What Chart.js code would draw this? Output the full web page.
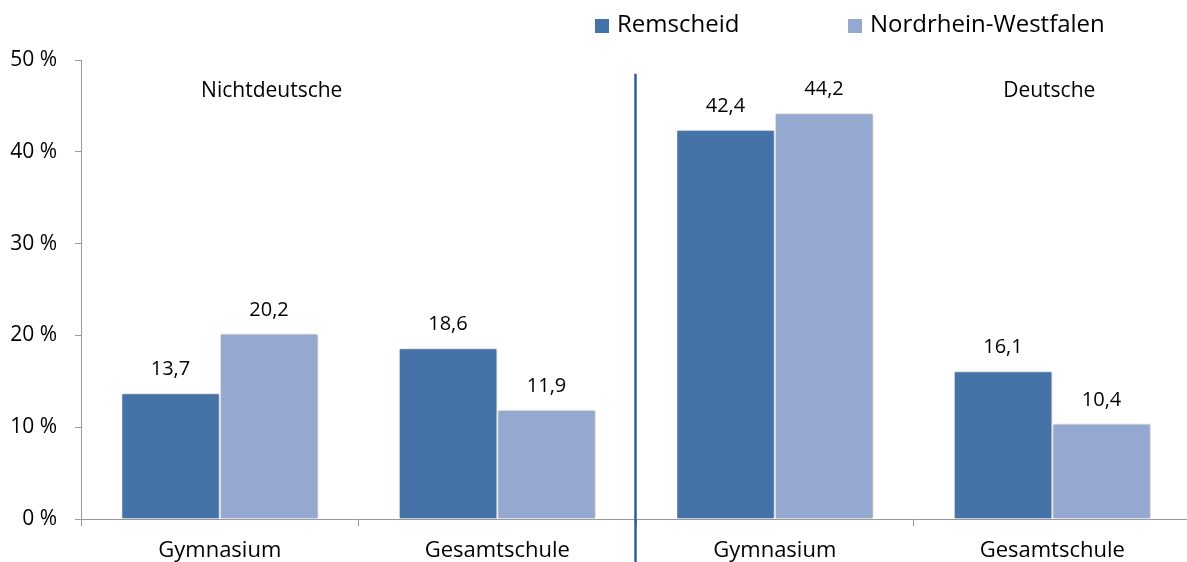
<!DOCTYPE html>
<html>
<head>
<meta charset="utf-8">
<script src="https://cdn.jsdelivr.net/npm/chart.js@4"></script>
<style>
  html, body { margin: 0; padding: 0; background: #fff; overflow: hidden; }
  #clip { width: 1187px; height: 562px; overflow: hidden; }
  #wrap { width: 1191px; height: 562px; }
</style>
</head>
<body>
<div id="clip"><div id="wrap"><canvas id="schoolChart"></canvas></div></div>
<script>
const categories = ['Gymnasium', 'Gesamtschule', 'Gymnasium', 'Gesamtschule'];
const groupLabels = ['Nichtdeutsche', 'Deutsche'];
const seriesNames = ['Remscheid', 'Nordrhein-Westfalen'];
const remscheid = [13.7, 18.6, 42.4, 16.1];
const nrw = [20.2, 11.9, 44.2, 10.4];
const colors = ['#4572a7', '#95a9d0'];

const FONT = "'Open Sans', sans-serif";

const fmt = v => v.toFixed(1).replace('.', ',');

// shadow under the bars, labels, separator, group titles and legend
const extras = {
  id: 'extras',
  beforeDatasetsDraw(chart) {
    const ctx = chart.ctx;
    ctx.save();
    ctx.shadowColor = 'rgba(0,0,0,0.28)';
    ctx.shadowBlur = 3;
    ctx.shadowOffsetX = 1.5;
    ctx.shadowOffsetY = 0;
  },
  afterDatasetsDraw(chart) {
    chart.ctx.restore();
  },
  afterDraw(chart) {
    const ctx = chart.ctx;
    const x = chart.scales.x, y = chart.scales.y;
    ctx.save();

    // value labels
    ctx.fillStyle = '#000';
    ctx.font = '20px ' + FONT;
    ctx.textAlign = 'center';
    ctx.textBaseline = 'alphabetic';
    chart.data.datasets.forEach((ds, i) => {
      chart.getDatasetMeta(i).data.forEach((bar, j) => {
        ctx.fillText(fmt(ds.data[j]), bar.x, bar.y - 18);
      });
    });

    // separator between the two groups
    const sepX = Math.round((x.getPixelForValue(1) + x.getPixelForValue(2)) / 2) - 0.5;
    ctx.strokeStyle = '#2f5d97';
    ctx.lineWidth = 2.5;
    ctx.beginPath();
    ctx.moveTo(sepX, y.getPixelForValue(48.5));
    ctx.lineTo(sepX, chart.height);
    ctx.stroke();

    // group titles
    ctx.font = '21px ' + FONT;
    ctx.textBaseline = 'middle';
    const gy = y.getPixelForValue(46.6);
    ctx.fillText(groupLabels[0], x.getPixelForValue(0) + 52, gy);
    ctx.fillText(groupLabels[1], x.getPixelForValue(3) - 3, gy);

    // legend
    ctx.font = '24px ' + FONT;
    ctx.textAlign = 'left';
    const lx = [595, 848];
    seriesNames.forEach((name, i) => {
      ctx.fillStyle = colors[i];
      ctx.fillRect(lx[i], 19, 14, 14);
      ctx.fillStyle = '#000';
      ctx.fillText(name, lx[i] + 22, 25);
    });
    ctx.restore();
  }
};

new Chart(document.getElementById('schoolChart'), {
  type: 'bar',
  data: {
    labels: categories,
    datasets: [
      { label: seriesNames[0], data: remscheid, backgroundColor: colors[0] },
      { label: seriesNames[1], data: nrw, backgroundColor: colors[1] }
    ]
  },
  options: {
    responsive: true,
    maintainAspectRatio: false,
    animation: false,
    layout: { padding: { top: 60, right: 0, left: 0, bottom: 0 } },
    datasets: {
      bar: {
        categoryPercentage: 0.71,
        barPercentage: 1,
        borderColor: '#ffffff',
        borderWidth: 1
      }
    },
    plugins: {
      legend: { display: false },
      tooltip: { enabled: false }
    },
    scales: {
      x: {
        grid: {
          display: true,
          drawOnChartArea: false,
          offset: true,
          tickLength: 7,
          color: '#999'
        },
        border: { color: '#999', width: 1 },
        ticks: {
          color: '#000',
          font: { family: FONT, size: 22 },
          padding: 12
        },
        afterFit: s => { s.height = 43; }
      },
      y: {
        min: 0,
        max: 50,
        grid: {
          drawOnChartArea: false,
          tickLength: 6,
          color: '#999'
        },
        border: { color: '#999', width: 1 },
        ticks: {
          stepSize: 10,
          color: '#000',
          padding: 18,
          font: { family: FONT, size: 21 },
          callback: v => v + ' %'
        },
        afterFit: s => { s.width = 81; }
      }
    }
  },
  plugins: [extras]
});
</script>
</body>
</html>
